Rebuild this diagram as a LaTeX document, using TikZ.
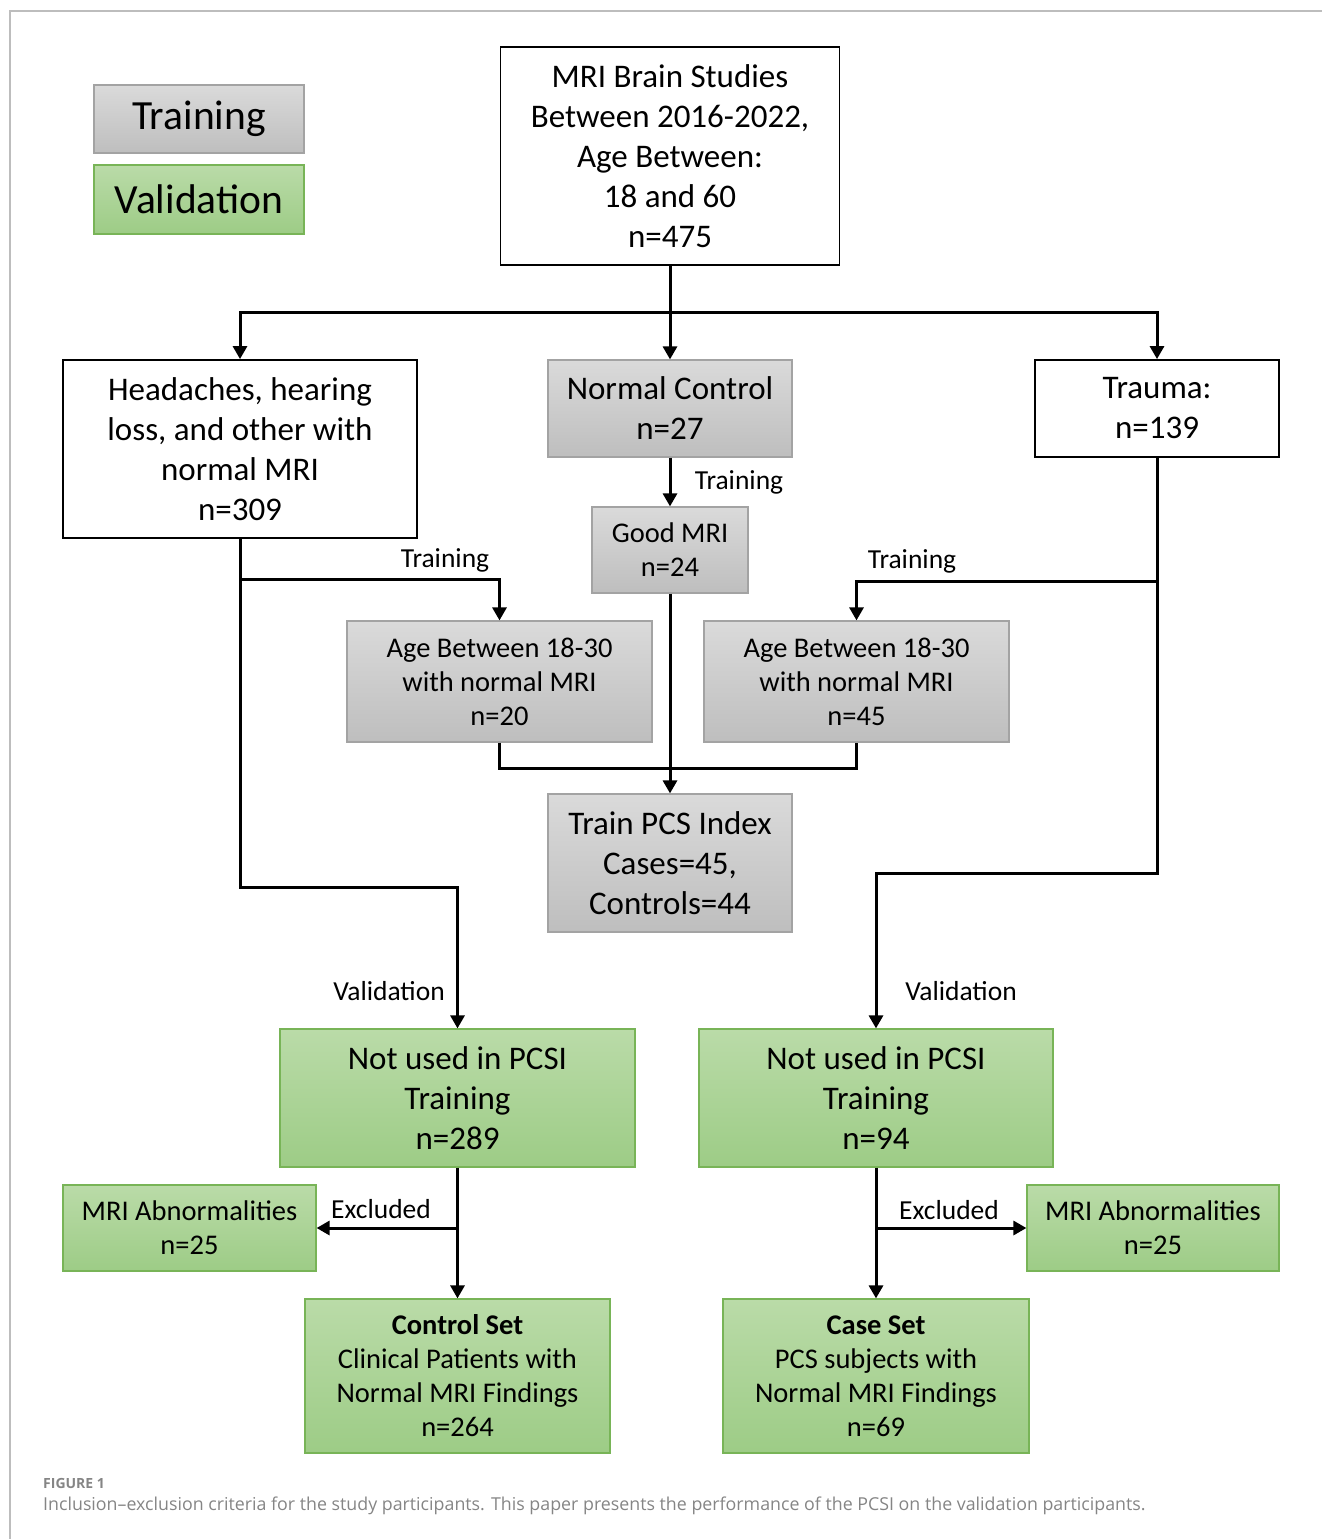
\documentclass[tikz,border=0pt]{standalone}
\usepackage{fontspec}
\setmainfont{Carlito}
\newfontfamily\capfont{Open Sans}
\usepackage{tikz}
\usetikzlibrary{arrows.meta}
\definecolor{framegray}{HTML}{BDBDBD}
\definecolor{graytop}{HTML}{DADADA}
\definecolor{graybot}{HTML}{BEBEBE}
\definecolor{grayedge}{HTML}{A3A3A3}
\definecolor{greentop}{HTML}{BADBA8}
\definecolor{greenbot}{HTML}{9DCC86}
\definecolor{greenedge}{HTML}{78B457}
\definecolor{captext}{HTML}{858585}
\tikzset{
  box/.style={rectangle, align=center, inner sep=0pt, text=black},
  whitebox/.style={box, draw=black, line width=1.8pt, fill=white},
  graybox/.style={box, draw=grayedge, line width=1.2pt, top color=graytop, bottom color=graybot},
  greenbox/.style={box, draw=greenedge, line width=1.2pt, top color=greentop, bottom color=greenbot},
  big/.style={font=\fontsize{33}{40}\selectfont},
  small/.style={font=\fontsize{28.5}{34}\selectfont},
  legend/.style={font=\fontsize{41.5}{48}\selectfont},
  lab/.style={font=\fontsize{27.5}{32}\selectfont, inner sep=0pt},
  conn/.style={draw=black, line width=3pt},
  arr/.style={conn, -{Triangle[length=13pt,width=14pt]}},
}
\begin{document}
\begin{tikzpicture}[x=1pt,y=-1pt]
  \useasboundingbox (0,0) rectangle (1322,1539);
  \draw[framegray, line width=2pt] (10,1539) -- (10,11) -- (1322,11);

  % legend
  \node[graybox, legend, minimum width=210pt, minimum height=68pt] (legtrain) at (199,119) {Training};
  \node[greenbox, legend, minimum width=210pt, minimum height=69pt] (legval) at (199,199.5) {Validation};

  % boxes
  \node[whitebox, big, minimum width=339pt, minimum height=218pt] (top) at (670,156)
    {MRI Brain Studies\\Between 2016-2022,\\Age Between:\\18 and 60\\n=475};
  \node[whitebox, big, minimum width=354pt, minimum height=178pt] (head) at (240,449)
    {Headaches, hearing\\loss, and other with\\normal MRI\\n=309};
  \node[graybox, big, minimum width=244pt, minimum height=97pt] (nc) at (670,408.5)
    {Normal Control\\n=27};
  \node[whitebox, big, minimum width=244pt, minimum height=97pt] (trauma) at (1157,408.5)
    {Trauma:\\n=139};
  \node[graybox, small, minimum width=156pt, minimum height=86pt] (good) at (670,550)
    {Good MRI\\n=24};
  \node[graybox, small, minimum width=305pt, minimum height=121pt] (ageL) at (499.5,681.5)
    {Age Between 18-30\\with normal MRI\\n=20};
  \node[graybox, small, minimum width=305pt, minimum height=121pt] (ageR) at (856.5,681.5)
    {Age Between 18-30\\with normal MRI\\n=45};
  \node[graybox, big, minimum width=244pt, minimum height=138pt] (pcs) at (670,863)
    {Train PCS Index\\Cases=45,\\Controls=44};
  \node[greenbox, big, minimum width=355pt, minimum height=138pt] (nuL) at (457.5,1098)
    {Not used in PCSI\\Training\\n=289};
  \node[greenbox, big, minimum width=354pt, minimum height=138pt] (nuR) at (876,1098)
    {Not used in PCSI\\Training\\n=94};
  \node[greenbox, small, minimum width=253pt, minimum height=86pt] (abnL) at (189.5,1228)
    {MRI Abnormalities\\n=25};
  \node[greenbox, small, minimum width=252pt, minimum height=86pt] (abnR) at (1153,1228)
    {MRI Abnormalities\\n=25};
  \node[greenbox, small, minimum width=305pt, minimum height=154pt] (ctrl) at (457.5,1376)
    {\textbf{Control Set}\\Clinical Patients with\\Normal MRI Findings\\n=264};
  \node[greenbox, small, minimum width=306pt, minimum height=154pt] (case) at (876,1376)
    {\textbf{Case Set}\\PCS subjects with\\Normal MRI Findings\\n=69};

  % branch points
  \coordinate (split) at (670,312);
  \coordinate (hsplit) at (240,579);
  \coordinate (hbend) at (240,887);
  \coordinate (tsplit) at (1157,581);
  \coordinate (tbend) at (1157,873);
  \coordinate (join) at (670,768);
  \coordinate (exL) at (457.5,1228);
  \coordinate (exR) at (876,1228);

  % connectors
  \draw[conn] (top.south) -- (split);
  \draw[arr] (split) -| (head.north);
  \draw[arr] (split) -- (nc.north);
  \draw[arr] (split) -| (trauma.north);
  \draw[arr] (nc.south) -- (good.north);
  \draw[arr] (good.south) -- (pcs.north);
  \draw[conn] (head.south) -- (hsplit);
  \draw[arr] (hsplit) -| (ageL.north);
  \draw[arr] (hsplit) -- (hbend) -| (nuL.north);
  \draw[conn] (trauma.south) -- (tsplit);
  \draw[arr] (tsplit) -| (ageR.north);
  \draw[arr] (tsplit) -- (tbend) -| (nuR.north);
  \draw[conn] (ageL.south) |- (join) -| (ageR.south);
  \draw[arr] (nuL.south) -- (ctrl.north);
  \draw[arr] (exL) -- (abnL.east);
  \draw[arr] (nuR.south) -- (case.north);
  \draw[arr] (exR) -- (abnR.west);

  % labels
  \node[lab] (trainNC) at (739,482) {Training};
  \node[lab] (trainL) at (445,560) {Training};
  \node[lab] (trainR) at (912,561) {Training};
  \node[lab] (valL) at (389,991) {Validation};
  \node[lab] (valR) at (961,991) {Validation};
  \node[lab] (exclL) at (381,1209) {Excluded};
  \node[lab] (exclR) at (949,1210) {Excluded};

  % caption
  \node[anchor=west, inner sep=0pt, text=captext, font=\capfont\bfseries\fontsize{14}{16}\selectfont] (fig) at (43,1483) {FIGURE 1};
  \node[anchor=west, inner sep=0pt, text=captext, font=\capfont\fontsize{17.8}{20}\selectfont] (cap) at (43,1506)
    {Inclusion–exclusion criteria for the study participants. This paper presents the performance of the PCSI on the validation participants.};
\end{tikzpicture}
\end{document}
